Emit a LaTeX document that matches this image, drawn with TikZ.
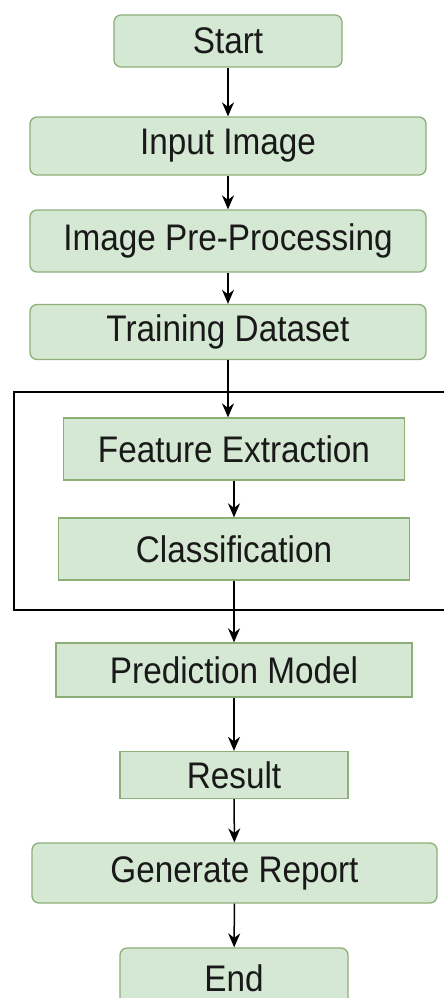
\documentclass[tikz,border=0pt]{standalone}
\usepackage{fontspec}
\setmainfont[FakeStretch=0.9]{Liberation Sans}
\usetikzlibrary{arrows.meta}
\definecolor{boxfill}{RGB}{213,232,212}
\definecolor{boxline}{RGB}{140,175,120}
\begin{document}
\begin{tikzpicture}[>={Stealth[length=14pt,width=12pt]}, x=1pt, y=-1pt,
    font=\fontsize{37}{42}\selectfont]
\tikzset{
  box/.style={draw=boxline, fill=boxfill, line width=1.3pt, inner sep=0pt, text=black!90},
  rbox/.style={box, rounded corners=7pt},
  flow/.style={->, line width=1.5pt}
}
\useasboundingbox (0,0) rectangle (444,998);

% outer frame
\draw[line width=1.6pt] (14,392) rectangle (452,610);

\node[rbox, minimum width=228, minimum height=52] (start) at (228,41) {Start};
\node[rbox, minimum width=396, minimum height=58] (input) at (228,146) {Input Image};
\node[rbox, minimum width=396, minimum height=62] (prep) at (228,241) {Image Pre-Processing};
\node[rbox, minimum width=396, minimum height=55] (train) at (228,332) {Training Dataset};
\node[box, minimum width=341, minimum height=62] (feat) at (234,449) {Feature Extraction};
\node[box, minimum width=351, minimum height=62] (class) at (234,549) {Classification};
\node[box, minimum width=356, minimum height=54] (pred) at (234,670) {Prediction Model};
\node[box, minimum width=228, minimum height=47] (result) at (234,775) {Result};
\node[rbox, minimum width=405, minimum height=60] (report) at (234.5,873) {Generate Report};
\node[rbox, minimum width=228, minimum height=60] (end) at (234,978) {End};

\draw[flow] (start) -- (input);
\draw[flow] (input) -- (prep);
\draw[flow] (prep) -- (train);
\draw[flow] (train.south) -- (train.south |- feat.north);
\draw[flow] (feat) -- (class);
\draw[flow] (class) -- (pred);
\draw[flow] (pred) -- (result);
\draw[flow] (result) -- (report);
\draw[flow] (report) -- (end);

\end{tikzpicture}
\end{document}
